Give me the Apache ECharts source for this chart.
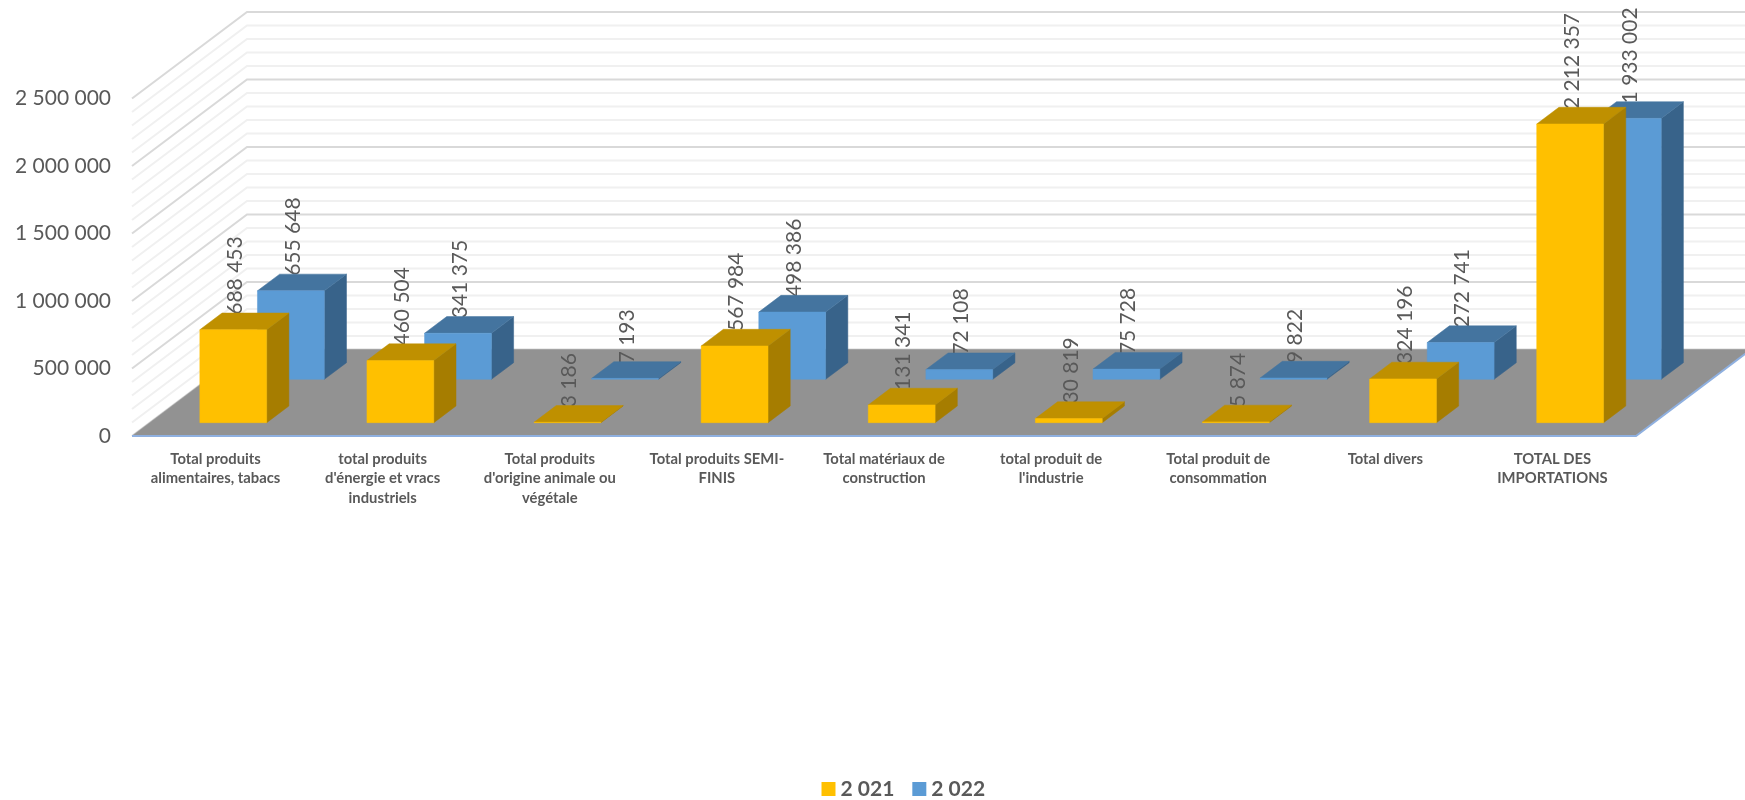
<!DOCTYPE html>
<html>
<head>
<meta charset="utf-8">
<title>Importations 2021 / 2022</title>
<script src="https://cdn.jsdelivr.net/npm/echarts@6/dist/echarts.min.js"></script>
<style>
  html, body { margin: 0; padding: 0; background: #fff; }
  #chart { width: 1745px; height: 800px; }
</style>
</head>
<body>
<div id="chart"></div>
<script>
var categories = [
  'Total produits\nalimentaires, tabacs',
  "total produits\nd'énergie et vracs\nindustriels",
  "Total produits\nd'origine animale ou\nvégétale",
  'Total produits SEMI-\nFINIS',
  'Total matériaux de\nconstruction',
  "total produit de\nl'industrie",
  'Total produit de\nconsommation',
  'Total divers',
  'TOTAL DES\nIMPORTATIONS'
];
var values2021 = [688453, 460504, 3186, 567984, 131341, 30819, 5874, 324196, 2212357];
var values2022 = [655648, 341375, 7193, 498386, 72108, 75728, 9822, 272741, 1933002];
var gridValues = [
  0, 100000, 200000, 300000, 400000, 500000, 600000, 700000, 800000, 900000,
  1000000, 1100000, 1200000, 1300000, 1400000, 1500000, 1600000, 1700000, 1800000, 1900000,
  2000000, 2100000, 2200000, 2300000, 2400000, 2500000
];

// the fake 3D: depth 0 is the front edge of the floor, depth 1 is the back wall
var DEPTH_X = 115;
var DEPTH_Y = 86.5;
var BAR_RATIO = 0.4;
var TEXT_COLOR = '#595959';
var FONT = 'Lato, "Open Sans", sans-serif';

function project(point, depth) {
  return [point[0] + depth * DEPTH_X, point[1] - depth * DEPTH_Y];
}

function formatNumber(value) {
  return String(value).replace(/\B(?=(\d{3})+$)/g, ' ');
}

function polygon(points, color) {
  return {
    type: 'polygon',
    shape: { points: points },
    style: { fill: color, stroke: color, lineWidth: 0.5 }
  };
}

function renderBar(depthFront, depthBack, colors) {
  return function (params, api) {
    var base = api.coord([api.value(0), 0]);
    var top = api.coord([api.value(0), api.value(1)]);
    var half = api.size([1, 0])[0] * BAR_RATIO / 2;
    var frontLeftTop = project([top[0] - half, top[1]], depthFront);
    var frontRightTop = project([top[0] + half, top[1]], depthFront);
    var frontRightBase = project([base[0] + half, base[1]], depthFront);
    var frontLeftBase = project([base[0] - half, base[1]], depthFront);
    var backLeftTop = project([top[0] - half, top[1]], depthBack);
    var backRightTop = project([top[0] + half, top[1]], depthBack);
    var backRightBase = project([base[0] + half, base[1]], depthBack);
    var labelPos = project([top[0] + 2, top[1] - 15], depthFront);

    return {
      type: 'group',
      children: [
        {
          type: 'text',
          x: labelPos[0],
          y: labelPos[1],
          rotation: Math.PI / 2,
          style: {
            text: formatNumber(api.value(1)),
            font: '21px ' + FONT,
            fill: TEXT_COLOR,
            align: 'left',
            verticalAlign: 'middle'
          }
        },
        polygon([frontRightTop, backRightTop, backRightBase, frontRightBase], colors.side),
        polygon([frontLeftTop, backLeftTop, backRightTop, frontRightTop], colors.top),
        polygon([frontLeftTop, frontRightTop, frontRightBase, frontLeftBase], colors.front)
      ]
    };
  };
}

function renderGridLine(params, api) {
  var value = api.value(1);
  var half = api.size([1, 0])[0] / 2;
  var first = api.coord([0, value]);
  var last = api.coord([categories.length - 1, value]);
  var frontLeft = [first[0] - half, first[1]];
  var backLeft = project(frontLeft, 1);
  var backRight = project([last[0] + half, last[1]], 1);
  var color = value % 500000 === 0 ? '#d9d9d9' : '#f0f0f0';

  return {
    type: 'polyline',
    shape: { points: [frontLeft, backLeft, backRight] },
    style: { fill: null, stroke: color, lineWidth: 2 }
  };
}

function renderFloor(params, api) {
  var half = api.size([1, 0])[0] / 2;
  var first = api.coord([0, 0]);
  var last = api.coord([categories.length - 1, 0]);
  var frontLeft = [first[0] - half, first[1]];
  var frontRight = [last[0] + half, last[1]];
  var backLeft = project(frontLeft, 1);
  var backRight = project(frontRight, 1);

  return {
    type: 'group',
    children: [
      polygon([frontLeft, backLeft, backRight, frontRight], '#929292'),
      {
        type: 'polyline',
        shape: { points: [frontLeft, frontRight, backRight] },
        style: { fill: null, stroke: '#8fb0e0', lineWidth: 2 }
      }
    ]
  };
}

function toPairs(values) {
  return values.map(function (value, index) {
    return [index, value];
  });
}

var myChart = echarts.init(document.getElementById('chart'), null, { renderer: 'canvas' });

var option = {
  animation: false,
  backgroundColor: '#fff',
  textStyle: { fontFamily: FONT },
  grid: { left: 132, right: 109, top: 98.5, bottom: 364 },
  legend: {
    data: ['2 021', '2 022'],
    top: 773.5,
    left: 816.5,
    itemWidth: 14,
    itemHeight: 14,
    itemGap: 18,
    icon: 'rect',
    selectedMode: false,
    textStyle: { fontFamily: FONT, fontSize: 21, fontWeight: 'bold', color: TEXT_COLOR }
  },
  xAxis: {
    type: 'category',
    data: categories,
    axisLine: { show: false },
    axisTick: { show: false },
    splitLine: { show: false },
    axisLabel: {
      interval: 0,
      margin: 13,
      color: TEXT_COLOR,
      fontFamily: FONT,
      fontSize: 14.8,
      fontWeight: 'bold',
      lineHeight: 19.5
    }
  },
  yAxis: {
    type: 'value',
    min: 0,
    max: 2500000,
    interval: 500000,
    axisLine: { show: false },
    axisTick: { show: false },
    splitLine: { show: false },
    axisLabel: {
      margin: 21,
      padding: [4, 0, 0, 0],
      color: TEXT_COLOR,
      fontFamily: FONT,
      fontSize: 21,
      formatter: formatNumber
    }
  },
  series: [
    {
      name: 'grille',
      type: 'custom',
      silent: true,
      z: 1,
      renderItem: renderGridLine,
      data: gridValues.map(function (value) { return [0, value]; })
    },
    {
      name: 'sol',
      type: 'custom',
      silent: true,
      z: 2,
      renderItem: renderFloor,
      data: [[0, 0]]
    },
    {
      name: '2 022',
      type: 'custom',
      z: 3,
      itemStyle: { color: '#5b9bd5' },
      renderItem: renderBar(0.655, 0.848, { front: '#5b9bd5', side: '#38638a', top: '#44749f' }),
      data: toPairs(values2022)
    },
    {
      name: '2 021',
      type: 'custom',
      z: 4,
      itemStyle: { color: '#ffc000' },
      renderItem: renderBar(0.154, 0.347, { front: '#ffc000', side: '#a67d00', top: '#bf9000' }),
      data: toPairs(values2021)
    }
  ]
};

myChart.setOption(option);
</script>
</body>
</html>
